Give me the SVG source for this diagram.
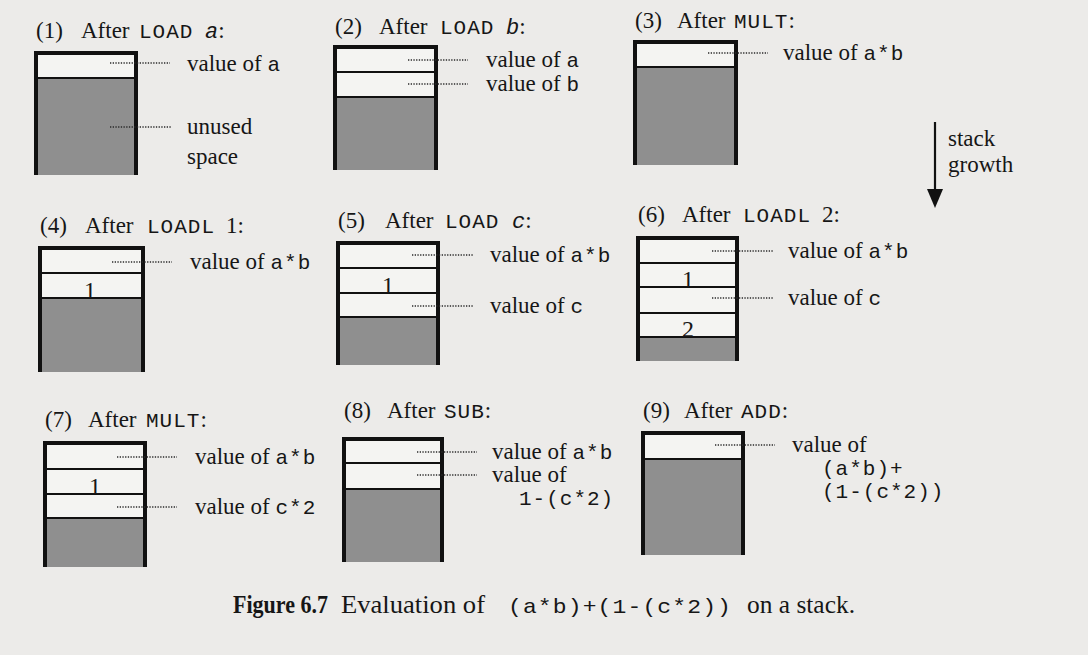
<svg xmlns="http://www.w3.org/2000/svg" width="1088" height="655" viewBox="0 0 1088 655">
<style>
.bg{fill:#ecebe9}
.cell{fill:#f4f4f2}
.gray{fill:#8f8f8f}
.frame{fill:none;stroke:#111;stroke-width:4;stroke-linejoin:miter}
.div{stroke:#111;stroke-width:2.2}
.lead{stroke:#2a2a2a;stroke-width:1.5;stroke-dasharray:1.3 1.4;fill:none}
.t{font-family:"Liberation Serif","Times New Roman",serif;font-size:23px;fill:#161616}
.n{font-family:"Liberation Serif","Times New Roman",serif;font-size:24px;fill:#161616}
.m{font-family:"Liberation Mono","Courier New",monospace;font-size:21px;letter-spacing:1px}
.mi{font-family:"Liberation Mono","Courier New",monospace;font-size:22px;font-style:italic}
.cap{font-family:"Liberation Serif","Times New Roman",serif;font-size:25px;fill:#161616}
.arrow{stroke:#111;stroke-width:2.2}
.head{fill:#111}
</style>
<rect class="bg" x="0" y="0" width="1088" height="655"/>

<g id="panel1">
<text class="t" y="38"><tspan x="36">(1)</tspan><tspan x="81">After</tspan><tspan x="139" class="m">LOAD</tspan><tspan x="205" class="mi">a</tspan>:</text>
<rect class="cell" x="36" y="53" width="100" height="25"/>
<rect class="gray" x="36" y="78" width="100" height="97"/>
<line class="div" x1="36" y1="78" x2="136" y2="78"/>
<path class="frame" d="M36,175V53H136V175"/>
<text class="t" x="187" y="71">value of <tspan class="m">a</tspan></text>
<text class="t" x="187" y="134">unused</text>
<text class="t" x="187" y="164">space</text>
</g>

<g id="panel2">
<text class="t" y="34"><tspan x="335">(2)</tspan><tspan x="379">After</tspan><tspan x="440" class="m">LOAD</tspan><tspan x="506" class="mi">b</tspan>:</text>
<rect class="cell" x="335" y="47" width="101" height="50"/>
<rect class="gray" x="335" y="97" width="101" height="73"/>
<line class="div" x1="335" y1="72" x2="436" y2="72"/>
<line class="div" x1="335" y1="97" x2="436" y2="97"/>
<path class="frame" d="M335,170V47H436V170"/>
<text class="t" x="486" y="67">value of <tspan class="m">a</tspan></text>
<text class="t" x="486" y="91">value of <tspan class="m">b</tspan></text>
</g>

<g id="panel3">
<text class="t" y="28"><tspan x="635">(3)</tspan><tspan x="677">After</tspan><tspan x="734" class="m">MULT</tspan>:</text>
<rect class="cell" x="635" y="42" width="101" height="25"/>
<rect class="gray" x="635" y="67" width="101" height="98"/>
<line class="div" x1="635" y1="67" x2="736" y2="67"/>
<path class="frame" d="M635,165V42H736V165"/>
<text class="t" x="783" y="60">value of <tspan class="m">a*b</tspan></text>
</g>

<g id="growth">
<text class="t" x="948" y="146">stack</text>
<text class="t" x="948" y="172">growth</text>
</g>

<g id="panel4">
<text class="t" y="233"><tspan x="40">(4)</tspan><tspan x="85">After</tspan><tspan x="147" class="m">LOADL</tspan><tspan x="226">1:</tspan></text>
<rect class="cell" x="40" y="248" width="103" height="50"/>
<rect class="gray" x="40" y="298" width="103" height="74"/>
<line class="div" x1="40" y1="273" x2="143" y2="273"/>
<line class="div" x1="40" y1="298" x2="143" y2="298"/>
<path class="frame" d="M40,372V248H143V372"/>
<text class="n" x="90" y="298" text-anchor="middle">1</text>
<text class="t" x="190" y="269">value of <tspan class="m">a*b</tspan></text>
</g>

<g id="panel5">
<text class="t" y="228"><tspan x="338">(5)</tspan><tspan x="385">After</tspan><tspan x="445" class="m">LOAD</tspan><tspan x="512" class="mi">c</tspan>:</text>
<rect class="cell" x="338" y="243" width="100" height="74"/>
<rect class="gray" x="338" y="317" width="100" height="48"/>
<line class="div" x1="338" y1="268" x2="438" y2="268"/>
<line class="div" x1="338" y1="293" x2="438" y2="293"/>
<line class="div" x1="338" y1="317" x2="438" y2="317"/>
<path class="frame" d="M338,365V243H438V365"/>
<text class="n" x="388" y="293" text-anchor="middle">1</text>
<text class="t" x="490" y="262">value of <tspan class="m">a*b</tspan></text>
<text class="t" x="490" y="313">value of <tspan class="m">c</tspan></text>
</g>

<g id="panel6">
<text class="t" y="222"><tspan x="638">(6)</tspan><tspan x="682">After</tspan><tspan x="743" class="m">LOADL</tspan><tspan x="822">2:</tspan></text>
<rect class="cell" x="638" y="238" width="99" height="99"/>
<rect class="gray" x="638" y="337" width="99" height="24"/>
<line class="div" x1="638" y1="263" x2="737" y2="263"/>
<line class="div" x1="638" y1="287" x2="737" y2="287"/>
<line class="div" x1="638" y1="313" x2="737" y2="313"/>
<line class="div" x1="638" y1="337" x2="737" y2="337"/>
<path class="frame" d="M638,361V238H737V361"/>
<text class="n" x="688" y="287" text-anchor="middle">1</text>
<text class="n" x="688" y="337" text-anchor="middle">2</text>
<text class="t" x="788" y="258">value of <tspan class="m">a*b</tspan></text>
<text class="t" x="788" y="305">value of <tspan class="m">c</tspan></text>
</g>

<g id="panel7">
<text class="t" y="427"><tspan x="45">(7)</tspan><tspan x="88">After</tspan><tspan x="146" class="m">MULT</tspan>:</text>
<rect class="cell" x="45" y="443" width="100" height="75"/>
<rect class="gray" x="45" y="518" width="100" height="49"/>
<line class="div" x1="45" y1="469" x2="145" y2="469"/>
<line class="div" x1="45" y1="494" x2="145" y2="494"/>
<line class="div" x1="45" y1="518" x2="145" y2="518"/>
<path class="frame" d="M45,567V443H145V567"/>
<text class="n" x="95" y="494" text-anchor="middle">1</text>
<text class="t" x="195" y="464">value of <tspan class="m">a*b</tspan></text>
<text class="t" x="195" y="514">value of <tspan class="m">c*2</tspan></text>
</g>

<g id="panel8">
<text class="t" y="418"><tspan x="344">(8)</tspan><tspan x="387">After</tspan><tspan x="444" class="m">SUB</tspan>:</text>
<rect class="cell" x="344" y="439" width="98" height="50"/>
<rect class="gray" x="344" y="489" width="98" height="73"/>
<line class="div" x1="344" y1="463" x2="442" y2="463"/>
<line class="div" x1="344" y1="489" x2="442" y2="489"/>
<path class="frame" d="M344,562V439H442V562"/>
<text class="t" x="492" y="459">value of <tspan class="m">a*b</tspan></text>
<text class="t" x="492" y="482">value of</text>
<text class="t" x="519" y="505"><tspan class="m">1-(c*2)</tspan></text>
</g>

<g id="panel9">
<text class="t" y="418"><tspan x="643">(9)</tspan><tspan x="684">After</tspan><tspan x="741" class="m">ADD</tspan>:</text>
<rect class="cell" x="643" y="433" width="100" height="26"/>
<rect class="gray" x="643" y="459" width="100" height="96"/>
<line class="div" x1="643" y1="459" x2="743" y2="459"/>
<path class="frame" d="M643,555V433H743V555"/>
<text class="t" x="792" y="452">value of</text>
<text class="t" x="822" y="475"><tspan class="m">(a*b)+</tspan></text>
<text class="t" x="822" y="498"><tspan class="m">(1-(c*2))</tspan></text>
</g>

<g id="connectors">
<line class="lead" x1="110" y1="63" x2="170" y2="63"/>
<line class="lead" x1="110" y1="127" x2="172" y2="127"/>
<line class="lead" x1="408" y1="60" x2="468" y2="60"/>
<line class="lead" x1="408" y1="84" x2="468" y2="84"/>
<line class="lead" x1="708" y1="53" x2="768" y2="53"/>
<line class="lead" x1="112" y1="262" x2="172" y2="262"/>
<line class="lead" x1="412" y1="255" x2="473" y2="255"/>
<line class="lead" x1="412" y1="306" x2="473" y2="306"/>
<line class="lead" x1="712" y1="251" x2="773" y2="251"/>
<line class="lead" x1="712" y1="298" x2="773" y2="298"/>
<line class="lead" x1="117" y1="457" x2="177" y2="457"/>
<line class="lead" x1="117" y1="507" x2="177" y2="507"/>
<line class="lead" x1="417" y1="452" x2="477" y2="452"/>
<line class="lead" x1="417" y1="475" x2="477" y2="475"/>
<line class="lead" x1="715" y1="445" x2="775" y2="445"/>
<line class="arrow" x1="935" y1="122" x2="935" y2="192"/>
<polygon class="head" points="927,189 943,189 935,208"/>
</g>

<g id="caption">
<text class="cap" y="613"><tspan x="233" font-weight="bold" textLength="95" lengthAdjust="spacingAndGlyphs">Figure 6.7</tspan><tspan x="341" textLength="144" lengthAdjust="spacingAndGlyphs">Evaluation of</tspan><tspan x="508" class="m" font-size="22" textLength="224" lengthAdjust="spacingAndGlyphs">(a*b)+(1-(c*2))</tspan><tspan x="747" textLength="108" lengthAdjust="spacingAndGlyphs">on a stack.</tspan></text>
</g>
</svg>
